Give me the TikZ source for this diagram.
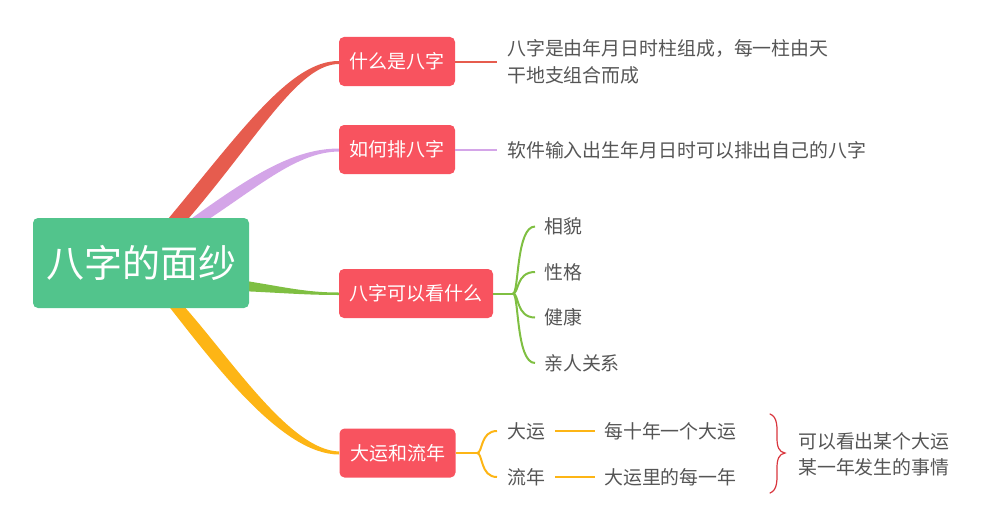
\documentclass[tikz,border=0pt]{standalone}
\usepackage{fontspec}
\setmainfont{Noto Sans CJK SC}
\definecolor{rootg}{HTML}{52C48C}
\definecolor{topicr}{HTML}{F8535F}
\definecolor{cred}{HTML}{E65C4E}
\definecolor{cpur}{HTML}{D4A5E8}
\definecolor{cgrn}{HTML}{7FBF42}
\definecolor{cyel}{HTML}{FDB515}
\definecolor{txt}{HTML}{555555}
\definecolor{brc}{HTML}{D9363E}
\begin{document}
\begin{tikzpicture}[x=1pt,y=-1pt,
  rootbox/.style={fill=rootg, rounded corners=5pt, minimum width=216pt, minimum height=90pt, text=white, font=\fontsize{38}{44}\selectfont, inner sep=0pt},
  topic/.style={fill=topicr, rounded corners=5pt, minimum height=49pt, inner xsep=10.5pt, inner ysep=0pt, text=white, font=\fontsize{19}{22}\selectfont},
  leaf/.style={anchor=west, inner sep=0pt, text=txt, font=\fontsize{18.9}{27}\selectfont, align=left},
  thinline/.style={line width=2pt}
]
\useasboundingbox (0,0) rectangle (1000,527);
% tapered main connectors
\fill[cred] (165.5,222) .. controls (240,133) and (290,60.5) .. (339,61) -- (339,64) .. controls (298,64) and (258,138) .. (185.5,222) -- cycle;
\fill[cpur] (188,221) .. controls (248,178) and (292,148.5) .. (339,148.5) -- (339,151.5) .. controls (298,152) and (262,184) .. (206,221) -- cycle;
\fill[cgrn] (240,280) .. controls (285,287) and (305,292.5) .. (339,292.5) -- (339,295) .. controls (305,295) and (285,293) .. (240,291) -- cycle;
\fill[cyel] (167,304) .. controls (215,365) and (282,454.5) .. (339,454.5) -- (339,451.5) .. controls (290,450) and (232,360) .. (182,304) -- cycle;
% nodes
\node[rootbox] (root) at (141,263) {八字的面纱};
\node[topic] (b1) at (397,61.5) {什么是八字};
\node[topic] (b2) at (397,149.5) {如何排八字};
\node[topic] (b3) at (416,293.5) {八字可以看什么};
\node[topic] (b4) at (397.5,453) {大运和流年};
% leaves
\node[leaf] (t1) at (507,61.5) {八字是由年月日时柱组成，每一柱由天\\干地支组合而成};
\node[leaf] (t2) at (507,150) {软件输入出生年月日时可以排出自己的八字};
\node[leaf] (c1) at (544,226.5) {相貌};
\node[leaf] (c2) at (544,272) {性格};
\node[leaf] (c3) at (544,317.5) {健康};
\node[leaf] (c4) at (544,363) {亲人关系};
\node[leaf] (d1) at (507,431) {大运};
\node[leaf] (d2) at (507,477) {流年};
\node[leaf] (e1) at (604,431) {每十年一个大运};
\node[leaf] (e2) at (604,477) {大运里的每一年};
\node[leaf, font=\fontsize{18.9}{26}\selectfont] (s1) at (798,454) {可以看出某个大运\\某一年发生的事情};
% coordinates
\coordinate (j1) at (497,61.5);
\coordinate (j2) at (497,149.5);
\coordinate (j3) at (513,293.5);
\coordinate (j4) at (477,453);
% thin connectors
\draw[thinline, cred] (b1.east) -- (j1);
\draw[thinline, cpur] (b2.east) -- (j2);
\draw[thinline, cgrn] (b3.east) -- (j3);
\foreach \c in {c1,c2,c3,c4}{
  \draw[thinline, cgrn] (j3) .. controls (519,293.5) and (516,0|-\c.west) .. ([xshift=-9pt]\c.west);
}
\draw[thinline, cyel] (b4.east) -- (j4);
\foreach \c in {d1,d2}{
  \draw[thinline, cyel] (j4) .. controls (483,453) and (480,0|-\c.west) .. ([xshift=-10pt]\c.west);
}
\draw[thinline, cyel] ([xshift=10pt]d1.east) -- ([xshift=-9pt]e1.west);
\draw[thinline, cyel] ([xshift=10pt]d2.east) -- ([xshift=-9pt]e2.west);
% brace
\coordinate (bt) at (770,414);
\coordinate (bm) at (785,453);
\coordinate (bb) at (770,493);
\draw[brc, line width=1.2pt, line cap=round] (bt) .. controls (778,417) and (777,428) .. (777,438) .. controls (777,447) and (779,452) .. (bm) .. controls (779,454) and (777,459) .. (777,468) .. controls (777,479) and (778,490) .. (bb);
\end{tikzpicture}
\end{document}
